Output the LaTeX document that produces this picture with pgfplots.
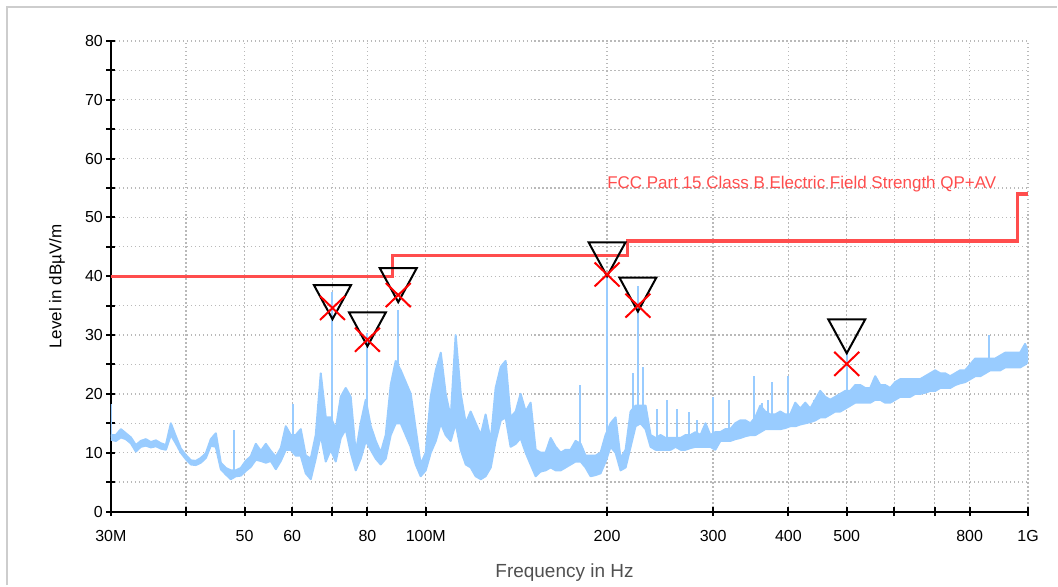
\documentclass[border=0pt]{standalone}
\usepackage{fontspec}
\setmainfont{Liberation Sans}
\usepackage{pgfplots}
\usepackage{pgfplotstable}
\pgfplotsset{compat=1.18}
\usepgfplotslibrary{fillbetween}
\usetikzlibrary{plotmarks}

\definecolor{trace}{RGB}{153,204,255}
\definecolor{limitred}{RGB}{255,77,77}
\definecolor{gridgray}{RGB}{185,185,185}
\definecolor{framegray}{RGB}{205,205,205}
\definecolor{labelgray}{RGB}{80,80,80}

% down triangle with its tip on the data point
\pgfdeclareplotmark{tridown}{%
  \pgfpathmoveto{\pgfqpoint{0pt}{0pt}}%
  \pgfpathlineto{\pgfqpoint{-18.5pt}{34pt}}%
  \pgfpathlineto{\pgfqpoint{18.5pt}{34pt}}%
  \pgfpathclose\pgfusepathqstroke}
\pgfdeclareplotmark{bigx}{%
  \pgfpathmoveto{\pgfqpoint{-12.5pt}{-12pt}}\pgfpathlineto{\pgfqpoint{12.5pt}{12pt}}%
  \pgfpathmoveto{\pgfqpoint{-12.5pt}{12pt}}\pgfpathlineto{\pgfqpoint{12.5pt}{-12pt}}%
  \pgfusepathqstroke}

% spectrum: frequency (MHz), upper and lower edge of the noise band (dBuV/m)
\pgfplotstableread{
f hi lo
30.00 13.0 12.2
30.58 13.0 12.0
31.17 14.0 12.6
31.77 13.3 12.3
32.38 12.6 11.6
33.01 11.3 10.2
33.64 12.0 11.0
34.29 12.3 11.2
34.95 11.8 10.9
35.63 12.1 11.1
36.32 11.6 10.7
37.02 11.3 10.5
37.73 15.0 13.0
38.46 12.8 11.6
39.20 10.7 10.0
39.96 9.6 8.9
40.73 8.7 8.0
41.51 8.6 7.9
42.31 9.1 8.3
43.13 9.9 9.1
43.96 12.3 11.2
44.81 13.3 11.0
45.67 8.3 7.2
46.55 7.4 6.3
47.45 7.0 5.5
48.37 7.0 6.0
49.30 7.4 6.1
50.25 8.6 6.9
51.22 9.4 7.6
52.21 11.5 8.8
53.22 10.3 8.6
54.25 11.5 8.3
55.29 10.3 8.6
56.36 9.3 7.2
57.45 10.8 8.6
58.55 14.5 10.5
59.68 13.0 10.5
60.83 13.0 9.5
62.00 14.0 9.5
63.20 9.5 6.5
64.42 9.0 5.5
65.66 13.0 9.0
66.93 23.5 13.0
68.22 16.0 8.5
69.53 16.0 10.5
70.88 14.0 8.5
72.25 19.5 12.5
73.64 21.0 14.0
75.06 19.5 10.0
76.51 10.0 7.0
77.98 15.0 9.0
79.49 19.0 12.0
81.02 14.5 10.5
82.58 12.0 9.0
84.18 10.0 8.0
85.80 13.0 9.0
87.45 21.5 13.0
89.14 25.6 15.0
90.86 24.0 15.0
92.61 22.0 13.0
94.40 20.0 11.0
96.22 14.0 8.0
98.07 8.0 6.0
99.97 10.0 7.0
101.9 19.5 10.0
103.9 24.0 12.0
105.9 27.0 15.0
107.9 20.0 13.0
110.0 16.0 12.0
112.1 30.0 15.0
114.3 20.0 10.5
116.5 15.0 8.0
118.7 17.0 7.5
121.0 15.0 6.0
123.4 13.0 5.5
125.7 16.5 6.0
128.2 12.0 7.5
130.6 21.0 12.0
133.2 24.6 15.5
135.7 25.6 16.0
138.3 16.0 11.0
141.0 17.0 11.5
143.7 20.0 12.5
146.5 17.0 10.0
149.3 18.5 8.0
152.2 10.5 6.0
155.1 10.0 6.8
158.1 10.0 7.0
161.2 12.5 7.5
164.3 11.0 7.0
167.5 10.0 7.0
170.7 10.5 7.5
174.0 10.5 8.0
177.3 12.0 8.5
180.8 11.5 8.5
184.2 9.5 7.5
187.8 9.5 6.0
191.4 9.5 6.2
195.1 10.0 6.5
198.9 13.0 8.5
202.7 15.0 11.0
206.6 16.0 10.0
210.6 9.0 7.0
214.7 10.5 7.5
218.8 17.0 11.0
223.0 18.0 14.5
227.3 18.0 15.0
231.7 18.0 14.0
236.2 13.0 11.0
240.8 12.5 10.5
245.4 13.0 10.5
250.1 12.5 10.5
255.0 12.5 10.5
259.9 12.5 11.0
264.9 12.5 10.5
270.0 13.0 10.5
275.2 13.0 10.8
280.5 13.5 11.0
285.9 13.0 11.0
291.4 15.0 11.0
296.8 13.0 11.0
302.5 13.5 10.5
308.4 13.5 12.0
314.3 14.0 12.0
320.4 14.0 12.0
326.5 15.0 12.3
332.9 15.5 12.5
339.3 15.5 12.8
345.9 15.0 13.0
352.5 16.0 13.0
359.3 18.0 13.5
366.2 17.0 14.0
373.3 16.5 14.0
380.5 16.5 14.0
387.8 17.0 14.0
395.3 16.5 14.2
402.9 16.5 14.5
410.7 18.5 14.5
418.6 17.5 14.8
426.7 18.5 15.0
434.9 17.5 15.2
443.3 19.0 15.5
451.8 20.5 16.0
460.5 19.5 16.0
469.5 19.0 16.5
478.5 19.5 17.0
487.8 20.0 17.0
497.2 20.5 17.5
506.8 20.5 18.0
516.5 21.5 18.5
526.5 21.5 18.5
536.6 21.0 18.5
547.0 21.0 18.5
557.5 23.0 19.0
568.3 21.5 19.0
579.2 21.5 18.5
590.4 21.0 18.5
601.8 22.0 19.0
613.4 22.5 19.5
625.3 22.5 19.5
637.3 22.5 19.5
649.6 22.5 20.0
662.1 22.5 20.0
674.9 23.0 20.2
687.9 23.5 20.5
701.2 24.0 20.5
714.7 23.5 21.0
728.5 23.5 21.0
742.6 23.0 21.0
756.9 23.5 21.5
771.5 24.0 21.8
786.4 24.0 22.0
801.6 25.0 22.5
817.0 26.0 23.0
832.8 26.0 23.0
848.9 26.0 23.5
865.2 26.0 24.0
881.9 26.0 24.0
898.9 26.5 24.0
916.3 27.0 24.5
933.9 27.0 24.5
952.0 27.0 24.5
970.3 27.0 24.5
989.0 28.5 25.0
1000 27.0 25.5
}\spectrum

% narrow spurs standing out of the band: foot and top, nan breaks the line
\pgfplotstableread{
f L
30.0 12.5
30.0 18.3
30.0 nan
48.0 6.5
48.0 13.8
48.0 nan
60.1 11.0
60.1 18.2
60.1 nan
70.0 12.0
70.0 37.4
70.0 nan
80.0 13.0
80.0 30.3
80.0 nan
90.0 16.0
90.0 34.2
90.0 nan
180.0 9.0
180.0 21.5
180.0 nan
200.0 9.0
200.0 40.3
200.0 nan
220.5 13.0
220.5 23.5
220.5 nan
225.0 15.0
225.0 38.4
225.0 nan
229.5 15.0
229.5 24.5
229.5 nan
241.7 11.0
241.7 17.5
241.7 nan
251.1 11.0
251.1 19.0
251.1 nan
260.9 11.0
260.9 17.5
260.9 nan
273.5 11.0
273.5 17.0
273.5 nan
281.6 11.0
281.6 15.5
281.6 nan
300.0 11.0
300.0 19.5
300.0 nan
319.0 12.0
319.0 19.0
319.0 nan
351.0 13.0
351.0 23.0
351.0 nan
362.0 13.5
362.0 18.5
362.0 nan
370.0 14.0
370.0 19.0
370.0 nan
376.0 14.0
376.0 22.0
376.0 nan
400.0 14.5
400.0 23.0
400.0 nan
412.3 14.5
412.3 18.5
412.3 nan
441.6 15.5
441.6 19.0
441.6 nan
451.8 16.0
451.8 20.5
451.8 nan
500.0 18.0
500.0 27.0
500.0 nan
862.0 24.0
862.0 30.0
}\spurs

\begin{document}
\begin{tikzpicture}
\path (-111pt,-74pt) rectangle (947pt,512pt);
\draw[framegray, line width=2pt] (-104pt,-74pt) -- (-104pt,505pt) -- (947pt,505pt);

\begin{axis}[
  at={(0pt,0pt)}, anchor=south west,
  width=918pt, height=471pt, scale only axis,
  xmode=log, xmin=30, xmax=1000, ymin=0, ymax=80,
  axis x line*=bottom, axis y line*=left,
  axis line style={black, line width=2pt},
  xtick={30,40,50,60,70,80,100,200,300,400,500,600,700,800,1000},
  xticklabels={30M,,50,60,,80,100M,200,300,400,500,,,800,1G},
  minor xtick={},
  ytick={0,10,...,80}, minor ytick={5,15,...,75},
  tick align=center, major tick length=9pt, minor tick length=9pt,
  every tick/.style={black, line width=2pt},
  grid=both,
  grid style={gridgray, line width=1.3pt, dash pattern=on 1.3pt off 2.7pt},
  minor grid style={gridgray, line width=1.3pt, dash pattern=on 1.3pt off 2.7pt},
  /pgf/number format/assume math mode=true,
  ticklabel style={font=\fontsize{16}{19}\selectfont},
  xticklabel style={yshift=-11pt},
  xlabel={Frequency in Hz},
  xlabel style={font=\fontsize{19}{23}\selectfont, text=labelgray,
    at={(axis description cs:0.4946,-0.1295)}, anchor=center},
  ylabel={Level in dBµV/m},
  ylabel style={font=\fontsize{17}{20}\selectfont,
    at={(axis description cs:-0.0588,0.478)}, anchor=center},
  unbounded coords=jump,
]
% measured spectrum
\addplot[name path=H, trace, line width=2pt, line join=round] table[x=f, y=hi] {\spectrum};
\addplot[name path=L, trace, line width=2pt, line join=round] table[x=f, y=lo] {\spectrum};
\addplot[trace] fill between[of=H and L];
\addplot[trace, line width=2pt] table[x=f, y=L] {\spurs};
% limit line
\addplot[limitred, line width=3.3pt] coordinates {
(30,40)(88,40)(88,43.5)(216,43.5)(216,46)(960,46)(960,54)(1000,54)
};
\node[limitred, anchor=west, font=\fontsize{17}{20}\selectfont, inner sep=0pt]
  at (axis cs:200,55.7) {FCC Part 15 Class B Electric Field Strength QP+AV};
% peak markers
\addplot[only marks, mark=tridown, mark options={black, line width=2pt}] coordinates {
(70,32.7)(80,28.1)(90,35.6)(200,40.0)(225,34.0)(500,26.9)
};
\addplot[only marks, mark=bigx, mark options={red, line width=2pt}] coordinates {
(70,34.6)(80,29.2)(90,36.8)(200,40.3)(225,35.0)(500,25.1)
};
\end{axis}
\end{tikzpicture}
\end{document}
